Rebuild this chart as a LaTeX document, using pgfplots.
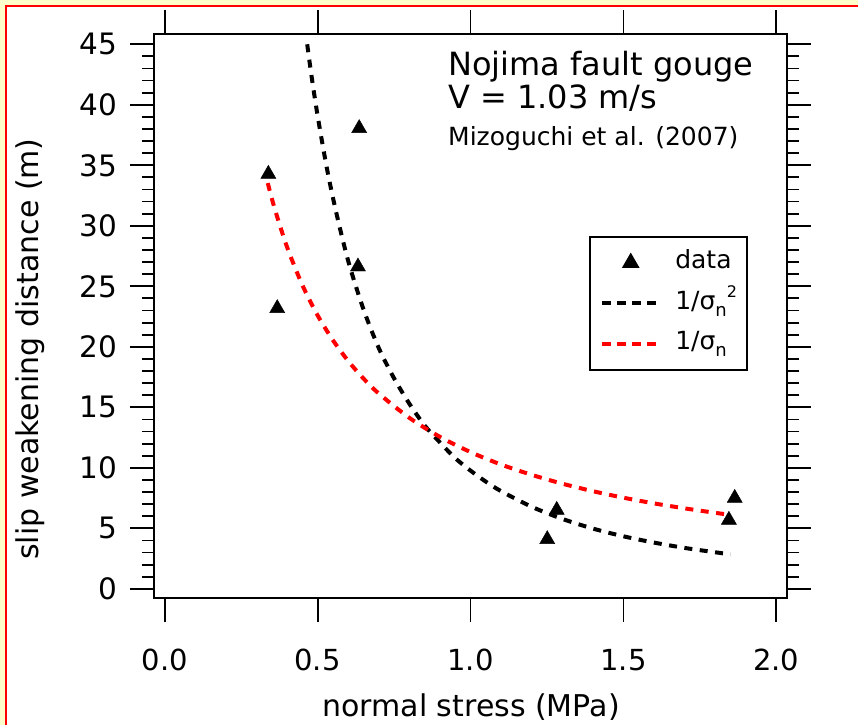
\documentclass[border=0pt]{standalone}
\usepackage{pgfplots}
\pgfplotsset{compat=1.18}
\usepackage{fontspec}
\setmainfont{DejaVu Sans}
\definecolor{bgyellow}{HTML}{FFFFCC}
\definecolor{fitred}{HTML}{FF0000}
\newcommand{\lsub}[1]{\raisebox{-7pt}{\fontsize{18}{18}\selectfont #1}}
\newcommand{\lsup}[1]{\raisebox{12pt}{\fontsize{16}{16}\selectfont #1}}
\pgfplotsset{
  mytrilegend/.style={legend image code/.code={\draw[##1] plot coordinates {(29pt,0pt)};}},
  mylinelegend/.style={legend image code/.code={\draw[##1, dash pattern=on 9pt off 6pt] (0pt,0pt) -- (55pt,0pt);}},
}
\begin{document}
\begin{tikzpicture}
\fill[bgyellow] (0pt,0pt) rectangle (858pt,-725pt);
\fill[white] (6pt,-6pt) rectangle (858pt,-725pt);
\draw[fitred, line width=2pt] (6pt,-725pt) -- (6pt,-6pt) -- (858pt,-6pt);
\begin{axis}[
  at={(154pt,-598pt)}, anchor=south west,
  scale only axis, width=633pt, height=564pt,
  xmin=-0.035, xmax=2.035, ymin=-0.76, ymax=45.85,
  xtick={0,0.5,1,1.5,2}, ytick={0,5,...,45},
  minor y tick num=4,
  xtick pos=both, ytick pos=both,
  xticklabel pos=lower, yticklabel pos=left,
  tick align=outside,
  major tick length=24pt, minor tick length=12pt,
  tick style={black, line width=1.8pt},
  minor tick style={black, line width=1.8pt},
  axis line style={black, line width=2pt},
  /pgf/number format/assume math mode=true,
  xticklabel style={font=\fontsize{29}{34}\selectfont, inner sep=0pt, yshift=-27pt, /pgf/number format/.cd, fixed, fixed zerofill, precision=1},
  yticklabel style={font=\fontsize{29.5}{34}\selectfont, inner sep=0pt, xshift=-13pt},
  legend cell align=left,
  legend style={at={(rel axis cs:0.6872,0.6418)}, anchor=north west,
    draw=black, line width=1.5pt, inner xsep=10pt, inner ysep=14pt,
    row sep=16.5pt, column sep=16.5pt,
    nodes={inner sep=0pt, text height=18pt, text depth=6pt, font=\fontsize{25}{30}\selectfont}},
]
\addplot[only marks, mark=triangle*, mark size=8.7pt, black, mytrilegend]
  coordinates {(0.339,34.28) (0.368,23.18) (0.636,38.06) (0.632,26.62)
               (1.251,4.09) (1.282,6.51) (1.845,5.69) (1.864,7.50)};
\addlegendentry{data}
\addplot[black, line width=4pt, dash pattern=on 8pt off 7.5pt, smooth, mylinelegend]
  coordinates {(0.466,45.0) (0.48,42.4) (0.50,39.1) (0.53,34.8) (0.56,31.2)
    (0.60,27.1) (0.65,23.1) (0.70,19.9) (0.75,17.4) (0.80,15.3) (0.85,13.5)
    (0.90,12.1) (0.95,10.8) (1.00,9.77) (1.05,8.86) (1.10,8.07) (1.20,6.78)
    (1.30,5.78) (1.40,4.98) (1.50,4.34) (1.60,3.82) (1.70,3.38) (1.80,3.02) (1.85,2.85)};
\addlegendentry{1/σ\lsub{n}\lsup{2}}
\addplot[fitred, line width=4pt, dash pattern=on 8pt off 7.5pt, smooth, mylinelegend]
  coordinates {(0.337,33.53) (0.36,31.39) (0.40,28.25) (0.45,25.11) (0.50,22.60)
    (0.55,20.55) (0.60,18.83) (0.65,17.38) (0.70,16.14) (0.80,14.13) (0.90,12.56)
    (1.00,11.30) (1.10,10.27) (1.20,9.42) (1.30,8.69) (1.40,8.07) (1.50,7.53)
    (1.60,7.06) (1.70,6.65) (1.80,6.28) (1.85,6.11)};
\addlegendentry{1/σ\lsub{n}}
\end{axis}
\node[anchor=base west, inner sep=0pt, font=\fontsize{32}{38}\selectfont] at (448pt,-75pt) {Nojima fault gouge};
\node[anchor=base west, inner sep=0pt, font=\fontsize{32}{38}\selectfont] at (448pt,-108pt) {V = 1.03 m/s};
\node[anchor=base west, inner sep=0pt, font=\fontsize{25}{30}\selectfont] at (448pt,-145pt) {Mizoguchi et al. (2007)};
\node[anchor=base, inner sep=0pt, rotate=90, font=\fontsize{30}{36}\selectfont] at (38pt,-349pt) {slip weakening distance (m)};
\node[anchor=base, inner sep=0pt, font=\fontsize{30}{36}\selectfont] at (471pt,-716pt) {normal stress (MPa)};
\pgfresetboundingbox
\path[use as bounding box] (0pt,0pt) rectangle (858pt,-725pt);
\end{tikzpicture}
\end{document}
